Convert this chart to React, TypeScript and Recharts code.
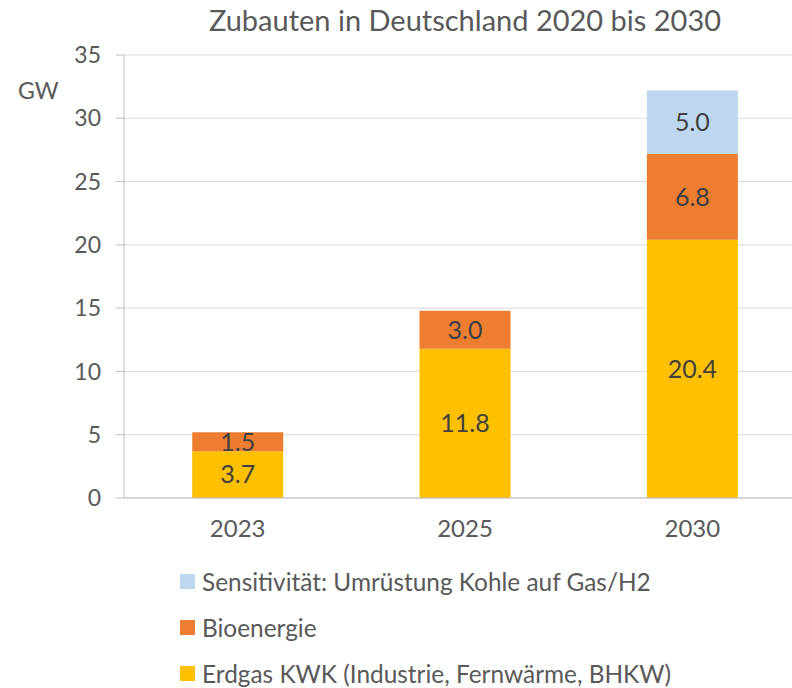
import { BarChart, Bar, XAxis, YAxis, CartesianGrid, LabelList } from "recharts";

const years = ["2023", "2025", "2030"];
const erdgas = [3.7, 11.8, 20.4];
const bio = [1.5, 3.0, 6.8];
const sensi = [0, 0, 5.0];
const yTicks = [0, 5, 10, 15, 20, 25, 30, 35];

const legendItems = [
  { name: "Sensitivität: Umrüstung Kohle auf Gas/H2", color: "#BDD7EE" },
  { name: "Bioenergie", color: "#ED7D31" },
  { name: "Erdgas KWK (Industrie, Fernwärme, BHKW)", color: "#FFC000" },
];

const font = "Lato, 'Open Sans', sans-serif";
const textColor = "#595959";

const fmt = (v: any) => (v ? Number(v).toFixed(1) : "");

export default function App() {
  const data = years.map((y, i) => ({
    year: y,
    erdgas: erdgas[i],
    bio: bio[i],
    sensi: sensi[i],
  }));

  const labelStyle = { fill: "#404040", fontSize: 25, fontFamily: font };

  return (
    <div
      style={{
        position: "absolute",
        left: 0,
        top: 0,
        width: 792,
        height: 688,
        overflow: "hidden",
        background: "#fff",
        fontFamily: font,
      }}
    >
      <div
        style={{
          position: "absolute",
          left: 165,
          width: 600,
          top: 3,
          textAlign: "center",
          fontSize: 29,
          lineHeight: "34px",
          color: textColor,
          whiteSpace: "nowrap",
        }}
      >
        Zubauten in Deutschland 2020 bis 2030
      </div>
      <div style={{ position: "absolute", left: 18, top: 76, fontSize: 23, lineHeight: "28px", color: textColor }}>
        GW
      </div>

      <BarChart
        width={810}
        height={560}
        data={data}
        margin={{ top: 55, right: 4, bottom: 0, left: 0 }}
        barCategoryGap="30%"
      >
        <CartesianGrid vertical={false} stroke="#D9D9D9" />
        <XAxis
          dataKey="year"
          height={62}
          tickSize={0}
          tickMargin={22}
          axisLine={{ stroke: "#BFBFBF" }}
          tick={{ fill: textColor, fontSize: 24, fontFamily: font }}
        />
        <YAxis
          width={124}
          domain={[0, 35]}
          ticks={yTicks}
          interval={0}
          tickSize={8}
          tickMargin={15}
          axisLine={{ stroke: "#BFBFBF" }}
          tickLine={{ stroke: "#BFBFBF" }}
          tick={{ fill: textColor, fontSize: 23, fontFamily: font }}
        />
        <Bar dataKey="erdgas" stackId="a" fill="#FFC000" isAnimationActive={false}>
          <LabelList dataKey="erdgas" position="center" formatter={fmt} style={labelStyle} />
        </Bar>
        <Bar dataKey="bio" stackId="a" fill="#ED7D31" isAnimationActive={false}>
          <LabelList dataKey="bio" position="center" formatter={fmt} style={labelStyle} />
        </Bar>
        <Bar dataKey="sensi" stackId="a" fill="#BDD7EE" isAnimationActive={false}>
          <LabelList dataKey="sensi" position="center" formatter={fmt} style={labelStyle} />
        </Bar>
      </BarChart>

      {legendItems.map((it, i) => (
        <div
          key={it.name}
          style={{
            position: "absolute",
            left: 180,
            top: 566 + i * 46,
            height: 30,
            display: "flex",
            alignItems: "center",
            fontSize: 24.4,
            color: textColor,
            whiteSpace: "nowrap",
          }}
        >
          <span
            style={{
              display: "inline-block",
              width: 15,
              height: 15,
              background: it.color,
              marginRight: 7,
            }}
          />
          {it.name}
        </div>
      ))}
    </div>
  );
}
